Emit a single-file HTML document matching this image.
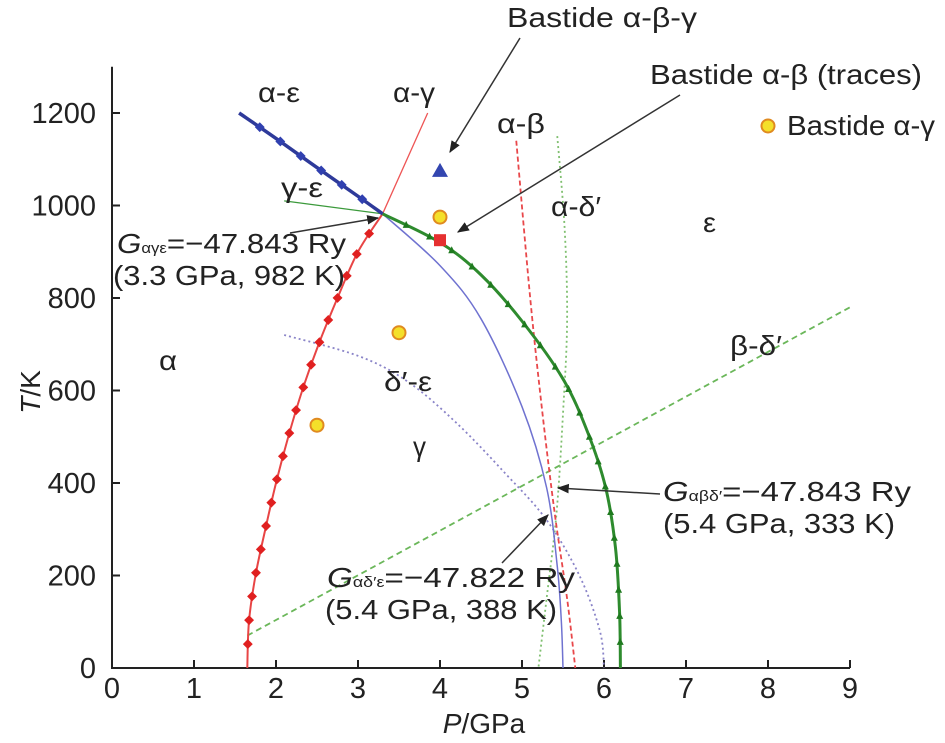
<!DOCTYPE html>
<html><head><meta charset="utf-8"><style>
html,body{margin:0;padding:0;background:#fff;}
svg{display:block;font-family:"Liberation Sans",sans-serif;}
</style></head><body>
<svg id="chart" width="945" height="743" viewBox="0 0 945 743" xmlns="http://www.w3.org/2000/svg">
<defs>
<marker id="arr" viewBox="0 0 10 10" refX="9" refY="5" markerWidth="8" markerHeight="8" orient="auto"><path d="M0,1 L10,5 L0,9 z" fill="#222"/></marker>
</defs>
<g id="axes"></g>
<g id="series"></g>
<g id="labels" font-size="28" fill="#222">
<text x="258" y="102" textLength="42" lengthAdjust="spacingAndGlyphs">α-ε</text>
<text x="393" y="102" textLength="42" lengthAdjust="spacingAndGlyphs">α-γ</text>
<text x="497" y="133" textLength="48" lengthAdjust="spacingAndGlyphs">α-β</text>
<text x="281" y="197" textLength="42" lengthAdjust="spacingAndGlyphs">γ-ε</text>
<text x="551" y="216" textLength="50" lengthAdjust="spacingAndGlyphs">α-δ′</text>
<text x="703" y="232" textLength="13" lengthAdjust="spacingAndGlyphs">ε</text>
<text x="159" y="370" textLength="18" lengthAdjust="spacingAndGlyphs">α</text>
<text x="730" y="355" textLength="52" lengthAdjust="spacingAndGlyphs">β-δ′</text>
<text x="384" y="391" textLength="48" lengthAdjust="spacingAndGlyphs">δ′-ε</text>
<text x="413" y="456" textLength="13" lengthAdjust="spacingAndGlyphs">γ</text>
<text x="507" y="27" textLength="190" lengthAdjust="spacingAndGlyphs">Bastide α-β-γ</text>
<text x="650" y="84" textLength="272" lengthAdjust="spacingAndGlyphs">Bastide α-β (traces)</text>
<text x="787" y="135" textLength="148" lengthAdjust="spacingAndGlyphs">Bastide α-γ</text>
<text x="117" y="253" textLength="229" lengthAdjust="spacingAndGlyphs"><tspan font-style="italic">G</tspan><tspan font-size="15">αγε</tspan>=−47.843 Ry</text>
<text x="113" y="285" textLength="232" lengthAdjust="spacingAndGlyphs">(3.3 GPa, 982 K)</text>
<text x="663" y="501" textLength="248" lengthAdjust="spacingAndGlyphs"><tspan font-style="italic">G</tspan><tspan font-size="15">αβδ′</tspan>=−47.843 Ry</text>
<text x="663" y="533" textLength="232" lengthAdjust="spacingAndGlyphs">(5.4 GPa, 333 K)</text>
<text x="327" y="587" textLength="248" lengthAdjust="spacingAndGlyphs"><tspan font-style="italic">G</tspan><tspan font-size="15">αδ′ε</tspan>=−47.822 Ry</text>
<text x="325" y="619" textLength="232" lengthAdjust="spacingAndGlyphs">(5.4 GPa, 388 K)</text>
</g>
<g id="arrows" stroke="#333" stroke-width="1.5" marker-end="url(#arr)">
<line x1="520" y1="38" x2="450" y2="152"/>
<line x1="680" y1="95" x2="458" y2="232"/>
<line x1="290" y1="233" x2="378" y2="218"/>
<line x1="660" y1="494" x2="558" y2="488"/>
<line x1="502" y1="563" x2="548" y2="515"/>
</g>
</svg>
<script>
const xTicks=[0,1,2,3,4,5,6,7,8,9];
const yTicks=[0,200,400,600,800,1000,1200];
const alphaEpsilon=[[1.55,1200],[2.0,1145],[2.5,1082],[3.0,1020],[3.3,982]];
const alphaGammaMarked=[[1.65,0],[1.67,100],[1.75,200],[1.87,300],[2.0,400],[2.15,500],[2.32,600],[2.52,700],[2.75,800],[3.0,900],[3.3,982]];
const alphaGammaExt=[[3.3,982],[3.85,1200]];
const gammaEpsilonThin=[[2.1,1010],[3.3,982]];
const gammaEpsilon=[[3.3,982],[4.0,920],[4.5,850],[5.0,750],[5.5,625],[5.8,510],[6.02,390],[6.14,260],[6.19,120],[6.2,0]];
const alphaDelta=[[3.3,982],[4.0,870],[4.5,755],[5.0,565],[5.3,390],[5.43,220],[5.48,100],[5.5,0]];
const deltaEpsilon=[[2.1,720],[3.0,675],[3.6,620],[4.2,530],[4.8,420],[5.3,320],[5.7,200],[5.95,80],[6.0,0]];
const alphaBeta=[[4.93,1140],[5.1,800],[5.25,550],[5.4,333],[5.55,150],[5.65,0]];
const alphaDeltaP=[[5.43,1150],[5.52,950],[5.55,750],[5.5,550],[5.42,333],[5.3,150],[5.2,0]];
const betaDelta=[[1.65,70],[9.0,780]];
const circlePts=[[4.0,975],[3.5,725],[2.5,525],[8.0,1172]];
const trianglePt=[4.0,1075];
const squarePt=[4.0,925];

const NS="http://www.w3.org/2000/svg";
const X0=112,XS=82,Y0=668,YS=0.4625;
const sx=p=>X0+p*XS, sy=t=>Y0-t*YS;
function el(tag,attrs,parent){const e=document.createElementNS(NS,tag);for(const k in attrs)e.setAttribute(k,attrs[k]);parent.appendChild(e);return e;}
const axes=document.getElementById('axes'), ser=document.getElementById('series');
let a=el('path',{d:`M${sx(0)},${sy(1300)} L${sx(0)},${sy(0)} L${sx(9)},${sy(0)}`,fill:'none',stroke:'#222','stroke-width':2},axes);


xTicks.forEach(v=>{
 const t=el('line',{x1:sx(v),x2:sx(v),y1:sy(0),y2:sy(0)-8,stroke:'#222','stroke-width':2},axes);
 
 
 const l=el('text',{x:sx(v),y:sy(0)+30,'text-anchor':'middle','font-size':29,fill:'#222'},axes);l.textContent=v;
 
 
});
yTicks.forEach(v=>{
 const t=el('line',{x1:sx(0),x2:sx(0)+8,y1:sy(v),y2:sy(v),stroke:'#222','stroke-width':2},axes);
 
 
 const l=el('text',{x:sx(0)-16,y:sy(v)+10,'text-anchor':'end','font-size':29,fill:'#222'},axes);l.textContent=v;
 
 
});
let xt=el('text',{x:484,y:733,'text-anchor':'middle','font-size':28,fill:'#222'},axes);
xt.innerHTML='<tspan font-style="italic">P</tspan>/GPa';


let yt=el('text',{x:0,y:0,'text-anchor':'middle','font-size':28,fill:'#222',transform:'translate(40,392) rotate(-90)'},axes);
yt.innerHTML='<tspan font-style="italic">T</tspan>/K';



function smooth(pts){const P=pts.map(p=>[sx(p[0]),sy(p[1])]);if(P.length<3)return `M${P[0]} L${P[1]}`;
 let d=`M${P[0][0]},${P[0][1]}`;for(let i=0;i<P.length-1;i++){const p0=P[i-1]||P[i],p1=P[i],p2=P[i+1],p3=P[i+2]||p2;
 d+=` C${p1[0]+(p2[0]-p0[0])/6},${p1[1]+(p2[1]-p0[1])/6} ${p2[0]-(p3[0]-p1[0])/6},${p2[1]-(p3[1]-p1[1])/6} ${p2[0]},${p2[1]}`;}return d;}
function curve(pts,name,stroke,w,dash){const p=el('path',{d:smooth(pts),fill:'none',stroke:stroke,'stroke-width':w},ser);if(dash)p.setAttribute('stroke-dasharray',dash);
 
 return p;}
function markers(path,name,n,shape,color){const L=path.getTotalLength();for(let i=1;i<n;i++){const q=path.getPointAtLength(L*i/n);let m;
 if(shape==='d')m=el('rect',{x:q.x-3.5,y:q.y-3.5,width:7,height:7,fill:color,transform:`rotate(45 ${q.x} ${q.y})`},ser);
 else m=el('path',{d:`M${q.x},${q.y-4} L${q.x+3.5},${q.y+3} L${q.x-3.5},${q.y+3}z`,fill:color},ser);
 
 }}
curve(betaDelta,'beta-delta-line','#6bb75a',1.8,'6,4');
curve(deltaEpsilon,'delta-epsilon-line','#8a84c8',1.8,'2,3');
curve(alphaDeltaP,'alpha-delta-line','#7fbf6f',1.8,'2,3');
curve(alphaBeta,'alpha-beta-line','#e8474a',1.8,'5,3');
curve(alphaDelta,'alpha-delta-eps-line','#6f72d0',1.5);
curve(alphaGammaExt,'alpha-gamma-ext-line','#ee5555',1.3);
curve(gammaEpsilonThin,'gamma-epsilon-thin-line','#3c9a3c',1.3);
let p1=curve(alphaGammaMarked,'alpha-gamma-line','#e84545',2);markers(p1,'alpha-gamma-marker',20,'d','#e02020');
let p2=curve(gammaEpsilon,'gamma-epsilon-line','#2e8b2e',3);markers(p2,'gamma-epsilon-marker',21,'t','#1f7a1f');
let p3=curve(alphaEpsilon,'alpha-epsilon-line','#2e3a9a',3.5);markers(p3,'alpha-epsilon-marker',7,'d','#3040b0');
circlePts.forEach(c=>{const m=el('circle',{cx:sx(c[0]),cy:sy(c[1]),r:6.5,fill:'#f4e02a',stroke:'#e08a20','stroke-width':2},ser);
 
 });
let tr=el('path',{d:`M${sx(trianglePt[0])},${sy(trianglePt[1])-8} L${sx(trianglePt[0])+8},${sy(trianglePt[1])+6} L${sx(trianglePt[0])-8},${sy(trianglePt[1])+6}z`,fill:'#3346b0'},ser);


let sq=el('rect',{x:sx(squarePt[0])-6,y:sy(squarePt[1])-6,width:12,height:12,fill:'#e53030'},ser);


</script>
</body></html>
